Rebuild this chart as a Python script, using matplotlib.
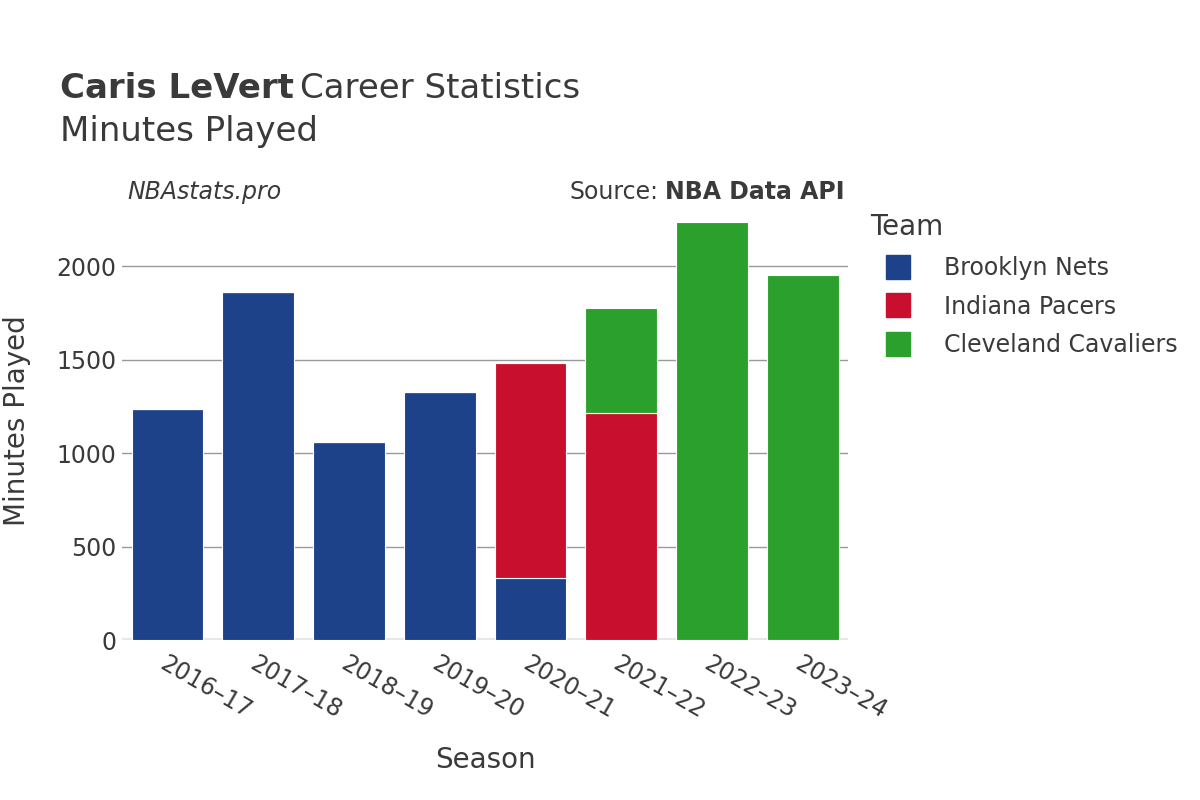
import numpy as np
import matplotlib.pyplot as plt
from matplotlib.lines import Line2D

seasons = ["2016–17", "2017–18", "2018–19", "2019–20", "2020–21", "2021–22", "2022–23", "2023–24"]
teams = ["Brooklyn Nets", "Indiana Pacers", "Cleveland Cavaliers"]
nets = [1235, 1861, 1059, 1326, 332, 0, 0, 0]
pacers = [0, 0, 0, 0, 1149, 1214, 0, 0]
cavs = [0, 0, 0, 0, 0, 561, 2235, 1952]
colors = ["#1d428a", "#c8102e", "#2ca02c"]

fig = plt.figure(figsize=(12, 8), dpi=100)
ax = fig.add_axes([0.1017, 0.2, 0.605, 0.5375])

x = np.arange(len(seasons))
bottom = np.zeros(len(seasons))
for vals, c in zip([nets, pacers, cavs], colors):
    vals = np.array(vals, dtype=float)
    ax.bar(x, vals, width=0.79, bottom=bottom, color=c, edgecolor="white", linewidth=0.8, zorder=3)
    bottom += vals

ax.set_xlim(-0.5, 7.5)
ax.set_ylim(0, 2300)
ax.set_yticks([0, 500, 1000, 1500, 2000])
ax.grid(axis="y", color="#999999", linewidth=1, zorder=0)
ax.axhline(0, color="#e8e8e8", linewidth=3, zorder=2)
for s in ax.spines.values():
    s.set_visible(False)
ax.tick_params(axis="both", length=0, labelsize=17, labelcolor="#3a3a3a")
ax.tick_params(axis="x", pad=8)
ax.tick_params(axis="y", pad=4)
ax.set_xticks(x)
ax.set_xticklabels(seasons, rotation=-30, ha="left", rotation_mode="anchor")
ax.set_xlabel("Season", fontsize=20, color="#3a3a3a", labelpad=17)
ax.set_ylabel("Minutes Played", fontsize=20, color="#3a3a3a", va="center")
ax.yaxis.set_label_coords(-0.1446, 0.51)

# title
t1 = fig.text(0.05, 0.889, "Caris LeVert", fontsize=24.5, fontweight="bold", color="#3a3a3a", va="center")
fig.canvas.draw()
bb = t1.get_window_extent()
fig.text(bb.x1 / 1200 + 0.005, 0.889, "Career Statistics", fontsize=24.5, color="#3a3a3a", va="center")
fig.text(0.05, 0.835, "Minutes Played", fontsize=24.5, color="#3a3a3a", va="center")

fig.text(0.106, 0.76, "NBAstats.pro", fontsize=17, style="italic", color="#3a3a3a", va="center")
t2 = fig.text(0.704, 0.76, "NBA Data API", fontsize=17, fontweight="bold", color="#3a3a3a", va="center", ha="right")
fig.canvas.draw()
bb2 = t2.get_window_extent()
fig.text(bb2.x0 / 1200 - 0.006, 0.76, "Source:", fontsize=17, color="#3a3a3a", va="center", ha="right")

handles = [Line2D([0], [0], marker="s", linestyle="", markersize=17, markerfacecolor=c, markeredgecolor=c) for c in colors]
leg = fig.legend(handles, teams, loc="upper left", bbox_to_anchor=(0.717, 0.745), frameon=False,
                 title="Team", fontsize=17, title_fontsize=20, handletextpad=0.75, labelspacing=0.62,
                 borderaxespad=0, handlelength=2.4)
leg._legend_box.align = "left"
for t in leg.get_texts():
    t.set_color("#3a3a3a")
leg.get_title().set_color("#3a3a3a")

fig.savefig("out.png", dpi=100)
